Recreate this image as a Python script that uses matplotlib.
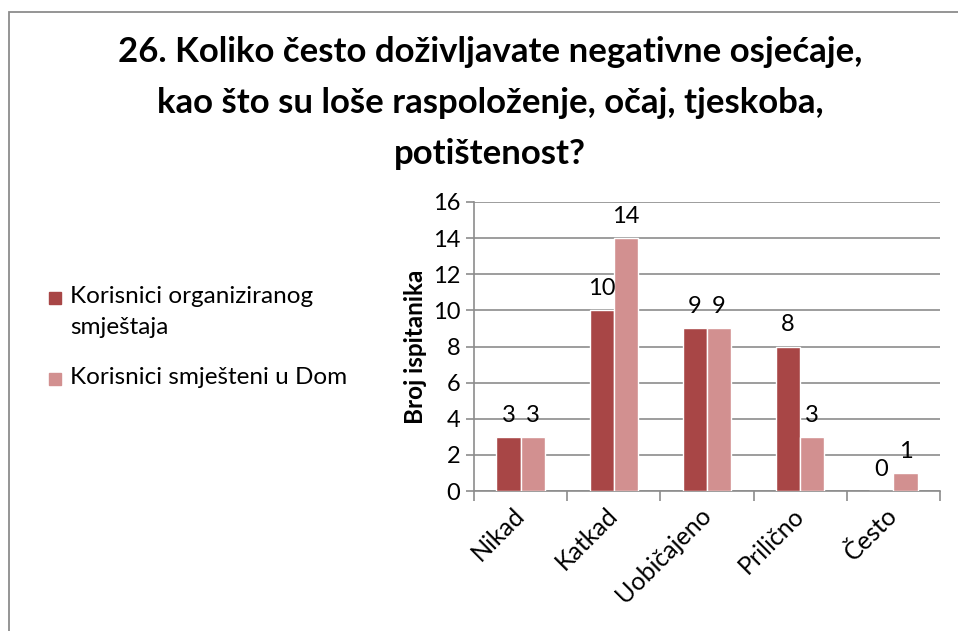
import matplotlib.pyplot as plt
from matplotlib.patches import Rectangle
import numpy as np

plt.rcParams['font.family'] = ['Lato', 'DejaVu Sans']

# podaci
kategorije = ["Nikad", "Katkad", "Uobičajeno", "Prilično", "Često"]
organizirani = [3, 10, 9, 8, 0]
dom = [3, 14, 9, 3, 1]
naslov = ("26. Koliko često doživljavate negativne osjećaje,\n"
          "kao što su loše raspoloženje, očaj, tjeskoba,\n"
          "potištenost?")
serije = ["Korisnici organiziranog\nsmještaja", "Korisnici smješteni u Dom"]
boje = ["#A84646", "#D29090"]

W, H = 958, 631
fig = plt.figure(figsize=(W / 100, H / 100), dpi=100)

# okvir oko grafa
fig.patches.append(Rectangle((9 / W, -0.1), 1.2, 1 - 12 / H + 0.1, transform=fig.transFigure,
                             fill=False, edgecolor="#8c8c8c", linewidth=1.3))

fig.text(490 / W, 1 - 103 / H, naslov, ha="center", va="center", fontsize=25,
         fontweight="bold", linespacing=1.72)

ax = fig.add_axes([474 / W, (H - 491) / H, (940 - 474) / W, (491 - 202) / H])
x = np.arange(len(kategorije))
sirina = 0.26
b1 = ax.bar(x - sirina / 2, organizirani, sirina, color=boje[0], edgecolor="white",
            linewidth=1, label=serije[0], zorder=3)
b2 = ax.bar(x + sirina / 2, dom, sirina, color=boje[1], edgecolor="white",
            linewidth=1, label=serije[1], zorder=3)
ax.bar_label(b1, padding=8, fontsize=17)
ax.bar_label(b2, padding=8, fontsize=17)

ax.set_xlim(-0.5, len(kategorije) - 0.5)
ax.set_ylim(0, 16)
ax.set_yticks(range(0, 17, 2))
ax.tick_params(axis="y", labelsize=17, length=6, width=1.2, color="#8c8c8c", pad=4)
ax.grid(axis="y", color="#8c8c8c", linewidth=1.2, zorder=0)

ax.set_xticks(x)
ax.set_xticklabels(kategorije, rotation=45, ha="right", va="center",
                   rotation_mode="anchor", fontsize=18)
ax.tick_params(axis="x", which="major", length=0, pad=15)
ax.set_xticks(np.arange(len(kategorije) + 1) - 0.5, minor=True)
ax.tick_params(axis="x", which="minor", length=7, width=1.2, color="#8c8c8c")

for s in ["top", "right"]:
    ax.spines[s].set_visible(False)
for s in ["left", "bottom"]:
    ax.spines[s].set_color("#8c8c8c")
    ax.spines[s].set_linewidth(1.2)

ax.set_ylabel("Broj ispitanika", fontsize=17.5, fontweight="bold", labelpad=4)

# legenda - kvadratic poravnat s prvim retkom teksta kao u Excelu
for naziv, boja, y_px in zip(serije, boje, [298, 379]):
    fig.patches.append(Rectangle((49 / W, 1 - (y_px + 6) / H), 12 / W, 12 / H,
                                 transform=fig.transFigure, color=boja))
    fig.text(70 / W, 1 - (y_px - 12) / H, naziv, ha="left", va="top", fontsize=17.5,
             linespacing=1.6)

fig.savefig("out.png", dpi=100)
